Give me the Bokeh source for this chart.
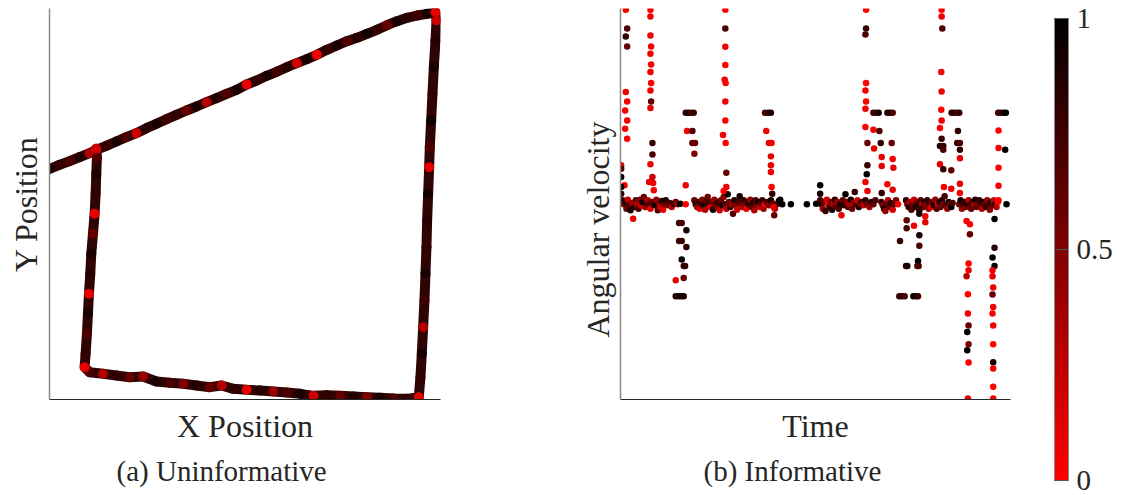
from bokeh.plotting import figure
from bokeh.models import Range1d, LinearColorMapper, ColorBar, FixedTicker, Title, ColumnDataSource
from bokeh.layouts import row
from bokeh.embed import file_html
from bokeh.resources import INLINE

# ---------------- data: (a) trajectory (x, y, weight) ----------------
traj_top_x = [30, 60, 90, 120, 150, 170, 200, 230, 260, 290, 320, 350, 380, 410, 440, 470, 500, 530, 560, 590,
              620, 650, 680, 710, 740, 770, 800, 830, 860, 890, 920, 950, 980, 1010, 1040, 1070, 1100, 1130, 1160, 1185]
traj_top_y = [692, 704, 715, 727, 739, 749, 761, 774, 787, 799, 814, 827, 841, 854, 867, 879, 892, 904, 917, 929,
              945, 957, 971, 983, 997, 1009, 1021, 1034, 1049, 1062, 1075, 1085, 1097, 1109, 1123, 1135, 1145, 1152, 1157, 1162]
traj_top_w = [0.9, 0.8, 0.7, 0.85, 0.3, 0.1, 0.8, 0.9, 0.7, 0.2, 0.85, 0.9, 0.75, 0.8, 0.6, 0.9, 0.3, 0.85, 0.7, 0.9,
              0.1, 0.8, 0.9, 0.75, 0.85, 0.2, 0.9, 0.05, 0.8, 0.9, 0.7, 0.85, 0.95, 0.8, 0.6, 0.9, 0.85, 0.75, 0.9, 0.1]
traj_right_x = [1188, 1185, 1180, 1176, 1172, 1168, 1166, 1163, 1160, 1158, 1155, 1152, 1148, 1144, 1140, 1135]
traj_right_y = [1137, 1077, 997, 917, 837, 757, 697, 617, 537, 457, 377, 297, 217, 137, 67, 7]
traj_right_w = [0.2, 0.85, 0.9, 0.8, 0.95, 0.7, 0.1, 0.9, 0.85, 0.8, 0.9, 0.75, 0.3, 0.9, 0.8, 0.1]
traj_bottom_x = [1100, 1060, 1020, 980, 940, 900, 860, 820, 780, 740, 700, 660, 620, 580, 545, 510, 470, 430, 390, 350,
                 310, 270, 230, 190, 150, 135]
traj_bottom_y = [2, 3, 5, 7, 9, 11, 13, 11, 17, 21, 24, 27, 29, 32, 42, 37, 42, 47, 50, 54, 69, 67, 72, 77, 82, 97]
traj_bottom_w = [0.8, 0.7, 0.9, 0.5, 0.85, 0.6, 0.8, 0.2, 0.9, 0.7, 0.4, 0.85, 0.1, 0.8, 0.3, 0.6, 0.85, 0.5, 0.7, 0.9,
                 0.4, 0.6, 0.8, 0.3, 0.7, 0.1]
traj_left_x = [138, 142, 145, 148, 152, 155, 160, 165, 168, 170, 172, 170]
traj_left_y = [137, 197, 257, 317, 377, 437, 497, 557, 617, 677, 727, 752]
traj_left_w = [0.8, 0.7, 0.9, 0.1, 0.85, 0.9, 0.6, 0.1, 0.8, 0.9, 0.7, 0.2]

# ---------------- data: (b) angular velocity (time, value, weight) ----------------
band_a = [(66, 12, 0.8), (70, 0, 0.5), (74, 7, 0.9), (78, -13, 0.6), (82, 14, 0.2), (86, -3, 0.7), (90, -18, 0.9),
          (94, 4, 0.4), (98, -43, 0.1), (102, -8, 0.8), (106, 12, 0.6), (110, 0, 0.3), (114, -13, 0.7), (118, 14, 0.5),
          (122, -3, 0.2), (126, 7, 0.9), (130, 22, 0.6), (134, -8, 0.4), (138, 4, 0.8), (142, 12, 0.3), (146, 0, 0.7),
          (150, -13, 0.1), (156, 7, 0.6), (162, -3, 0.9), (168, 14, 0.4), (172, -18, 0.7), (176, 2, 0.5), (180, -8, 0.2),
          (184, 10, 0.8), (188, -16, 0.1), (192, 0, 0.6), (196, 12, 0.9), (202, -3, 0.5), (208, 4, 0.7), (214, -8, 0.3),
          (220, 2, 0.8), (226, 7, 0.6), (232, 0, 0.4), (240, 2, 1.0), (256, 0, 0.0)]
band_b = [(282, 12, 0.6), (286, 0, 0.9), (290, -8, 0.4), (294, 7, 0.7), (298, -13, 0.2), (302, 2, 0.8), (306, 14, 0.5),
          (310, -3, 0.9), (314, -16, 0.3), (318, 7, 0.7), (322, 22, 0.6), (326, 0, 0.8), (330, -8, 0.1), (334, 7, 0.6),
          (338, -16, 0.9), (342, 14, 0.4), (346, 0, 0.7), (350, -8, 0.5), (354, 7, 0.8), (358, -18, 0.2), (362, 12, 0.6),
          (366, -3, 0.9), (370, 22, 0.5), (374, 0, 0.7), (378, -13, 0.3), (382, 30, 1.0), (386, 7, 0.6), (390, -8, 0.8),
          (394, 0, 0.4), (398, -28, 0.7), (402, 12, 0.9), (406, -3, 0.5), (410, -16, 0.2), (414, 7, 0.7), (418, 24, 0.9),
          (422, 0, 0.6), (426, -8, 0.3), (430, 12, 0.8), (434, -3, 0.5), (438, -13, 0.1), (442, 7, 0.7), (446, 0, 0.9),
          (450, 14, 0.4), (454, -8, 0.6), (458, 4, 0.8), (462, -18, 0.3), (466, 12, 0.7), (470, -3, 0.5), (474, 7, 0.9),
          (478, -8, 0.2), (482, 2, 0.6), (486, 12, 0.8), (490, -13, 0.4), (494, 0, 0.0), (500, 7, 0.7), (506, -3, 0.5),
          (512, 12, 0.9), (518, 2, 0.6), (524, -13, 0.3), (530, 0, 0.7), (536, 10, 0.9), (540, 14, 1.0),
          (546, 0, 1.0), (572, 0, 1.0), (620, 0, 1.0), (648, 2, 1.0)]
band_c = [(660, 12, 0.7), (664, 0, 0.9), (668, -13, 0.4), (672, 7, 0.6), (676, -20, 0.8), (680, 14, 0.2), (684, 0, 0.0),
          (688, -8, 0.7), (692, 7, 0.5), (696, -16, 0.9), (700, 0, 0.3), (704, 14, 0.8), (708, -6, 0.6), (712, 7, 0.4),
          (716, -13, 0.7), (720, 0, 0.9), (724, -33, 0.1), (728, 12, 0.6), (732, -3, 0.8), (736, 30, 1.0), (740, 7, 0.5),
          (744, -8, 0.7), (748, 0, 0.3), (752, 14, 0.9), (756, -13, 0.6), (760, 4, 0.4), (764, 37, 0.8), (768, 0, 0.7),
          (772, 12, 0.2), (776, -8, 0.9), (780, 2, 0.5), (784, 7, 0.7), (790, -3, 0.3), (796, 12, 0.8), (802, 0, 0.6),
          (808, -8, 0.4), (814, 7, 0.9), (820, 0, 0.6), (826, 12, 0.7), (844, 7, 0.8), (848, -3, 0.5), (852, -13, 0.9),
          (856, -20, 0.4), (860, 2, 0.7), (864, 12, 0.3), (868, -8, 0.6), (872, 4, 0.8), (878, -16, 0.2), (882, 0, 0.7),
          (888, 12, 0.5), (894, 0, 0.0)]
band_d = [(918, 12, 0.8), (922, 0, 0.5), (926, -8, 0.9), (930, 7, 0.3), (934, -16, 0.7), (938, 0, 0.6), (942, 14, 0.2),
          (946, -8, 0.8), (950, 7, 0.5), (954, -3, 0.9), (958, -16, 0.4), (962, 12, 0.7), (966, 0, 0.3), (970, -8, 0.6),
          (974, 7, 0.9), (978, 0, 0.5), (982, 12, 0.8), (986, -13, 0.4), (990, 2, 0.7), (994, -8, 0.1), (998, 7, 0.6),
          (1002, -3, 0.9), (1006, 14, 0.4), (1010, -13, 0.7), (1014, 0, 0.2), (1018, 7, 0.8), (1022, -8, 0.6),
          (1026, 12, 0.9), (1030, 0, 0.5), (1034, 24, 0.7), (1038, -3, 0.8), (1042, -13, 0.4), (1046, 7, 0.9),
          (1050, 0, 0.6), (1054, -8, 1.0), (1058, 4, 0.7)]
band_e = [(1078, 0, 0.6), (1082, 12, 0.9), (1086, -13, 0.4), (1090, 0, 0.7), (1094, 7, 0.8), (1098, -8, 0.5),
          (1102, 2, 0.9), (1106, 12, 0.3), (1110, -3, 0.7), (1114, -13, 0.6), (1118, 7, 0.8), (1122, 0, 0.4),
          (1126, 14, 0.9), (1130, -8, 0.6), (1134, 2, 0.5), (1138, 12, 0.8), (1142, -3, 0.7), (1146, -13, 0.3),
          (1150, 7, 0.9), (1154, 0, 0.6), (1158, -8, 0.8), (1162, 12, 0.4), (1166, 0, 0.7), (1170, -16, 0.5),
          (1174, 7, 0.9), (1178, -3, 0.6), (1182, 12, 0.2), (1186, 0, 0.8), (1190, -8, 0.3), (1194, 7, 0.0),
          (1220, 0, 1.0)]

spikes_1 = [(76, 584, 0.05), (80, 528, 0.7), (76, 504, 0.8), (80, 474, 0.6), (76, 337, 0.05), (80, 309, 0.05),
            (74, 282, 0.0), (80, 252, 0.05), (74, 227, 0.0), (80, 197, 0.05), (62, 117, 0.1), (62, 107, 0.7),
            (62, 82, 1.0), (72, 57, 0.05), (62, 52, 1.0), (62, 32, 0.8),
            (150, 584, 0.0), (150, 564, 0.05), (150, 507, 0.05), (152, 474, 0.0), (150, 452, 0.05), (152, 420, 0.0),
            (150, 397, 0.05), (152, 364, 0.0), (150, 342, 0.05), (152, 309, 0.6), (150, 289, 0.1), (156, 184, 0.8),
            (156, 150, 0.7), (150, 120, 0.05), (156, 82, 0.2), (146, 67, 0.1), (158, 64, 0.05), (160, 42, 0.0)]
spikes_2 = [(236, -56, 0.8), (244, -56, 0.7), (258, -78, 0.9), (236, -110, 0.7), (244, -110, 0.8), (258, -128, 0.8),
            (244, -166, 1.0), (250, -185, 0.7), (254, -185, 0.8), (250, -221, 0.6), (226, -228, 0.1),
            (226, -276, 0.9), (234, -276, 0.8), (242, -276, 1.0), (250, -276, 0.9),
            (256, 275, 0.8), (264, 275, 0.9), (272, 275, 0.7), (280, 275, 0.8),
            (260, 220, 0.05), (276, 220, 0.7), (276, 184, 0.6), (284, 184, 0.6), (282, 152, 0.5), (256, 57, 0.05),
            (375, 584, 0.0), (375, 528, 0.7), (375, 473, 0.05), (375, 418, 0.0), (373, 374, 0.05), (376, 364, 0.0),
            (375, 309, 0.05), (375, 252, 0.0), (368, 208, 0.05), (376, 184, 0.0), (378, 95, 0.6), (378, 52, 0.1),
            (370, 40, 0.0),
            (494, 275, 0.7), (504, 275, 0.8), (512, 275, 0.9),
            (498, 220, 0.05), (506, 184, 0.1), (514, 184, 0.05), (512, 144, 0.1), (512, 117, 0.1), (512, 97, 0.05),
            (514, 52, 0.0), (516, 32, 0.8), (520, -8, 0.1), (522, -33, 0.6)]
spikes_3 = [(798, 584, 0.0), (798, 528, 0.8), (796, 510, 0.7), (798, 364, 0.0), (796, 342, 0.05), (798, 309, 0.0),
            (796, 287, 0.05), (796, 232, 0.0), (802, 184, 0.6), (802, 117, 0.8), (800, 90, 1.0), (796, 67, 0.05),
            (802, 40, 0.1), (660, 57, 1.0), (660, 32, 0.9),
            (820, 275, 0.8), (828, 275, 0.7), (836, 275, 0.9), (862, 275, 0.8), (870, 275, 0.9), (878, 275, 0.7),
            (820, 224, 0.05), (838, 220, 0.7), (842, 184, 0.8), (875, 184, 0.6), (822, 168, 0.1), (845, 142, 0.1),
            (878, 136, 0.05), (845, 115, 0.1), (880, 110, 0.1), (862, 60, 0.0), (878, 44, 0.1), (845, 34, 0.8),
            (920, -48, 0.6), (920, -72, 0.7), (942, -64, 0.05), (958, -93, 0.9), (900, -110, 0.8), (958, -124, 0.7),
            (954, -170, 1.0), (918, -185, 0.8), (922, -185, 0.9), (952, -185, 0.6), (956, -185, 0.7),
            (976, -36, 0.05), (976, -54, 0.1), (958, -16, 0.8), (958, -28, 0.9),
            (898, -276, 0.8), (906, -276, 0.9), (914, -276, 0.7), (940, -276, 1.0), (948, -276, 0.9), (954, -276, 0.8)]
spikes_4 = [(1025, 584, 0.0), (1025, 564, 0.05), (1027, 528, 0.7), (1024, 397, 0.0), (1025, 339, 0.05),
            (1024, 284, 0.0), (1025, 252, 0.05), (1020, 229, 0.0), (1025, 197, 0.8), (1020, 175, 0.9),
            (1030, 175, 0.8), (1030, 164, 0.7), (1020, 120, 0.1), (1030, 105, 0.8), (1054, 102, 0.6),
            (1032, 52, 0.05), (1054, 47, 0.1),
            (1055, 275, 0.8), (1062, 275, 0.9), (1070, 275, 0.7), (1078, 275, 0.8),
            (1074, 220, 0.8), (1072, 184, 0.8), (1080, 184, 0.7), (1080, 164, 0.8), (1080, 138, 0.1), (1080, 62, 0.1),
            (1080, 34, 0.05),
            (1100, -50, 0.05), (1110, -60, 0.0), (1110, -90, 0.6), (1106, -178, 0.0), (1106, -198, 0.05),
            (1100, -216, 0.3), (1104, -270, 0.0), (1104, -328, 0.05), (1106, -364, 0.6), (1102, -383, 1.0),
            (1106, -420, 0.5), (1102, -438, 1.0), (1106, -475, 0.0), (1104, -583, 0.1)]
spikes_5 = [(1195, 275, 0.7), (1203, 275, 0.8), (1211, 275, 0.9), (1218, 275, 1.0),
            (1196, 222, 0.0), (1196, 169, 0.05), (1216, 164, 1.0), (1196, 110, 0.0), (1196, 56, 0.05), (1196, 12, 0.0),
            (1184, -44, 1.0), (1184, -130, 0.8), (1178, -160, 1.0), (1184, -185, 1.0), (1178, -198, 0.05),
            (1178, -216, 0.1), (1180, -250, 0.05), (1178, -271, 0.6), (1180, -308, 0.05), (1178, -328, 0.0),
            (1180, -364, 0.05), (1180, -420, 0.0), (1180, -474, 0.9), (1180, -493, 0.05), (1180, -548, 0.0),
            (1180, -583, 0.05)]

colorbar_ticks = [0, 0.5, 1]
colorbar_labels = ["0", "0.5", "1"]

# ---------------- styling ----------------
FONT = "Liberation Serif"
TXT = "#262626"
palette = ["#%02x0000" % round(255 * (1 - i / 255)) for i in range(256)]
mapper = LinearColorMapper(palette=palette, low=0, high=1)


def style(p):
    p.grid.visible = False
    p.outline_line_color = None
    p.background_fill_color = "white"
    p.border_fill_color = "white"
    for ax in (p.xaxis[0], p.yaxis[0]):
        ax.ticker = FixedTicker(ticks=[])
        ax.major_label_text_font_size = "0px"
        ax.major_tick_line_color = None
        ax.minor_tick_line_color = None
        ax.axis_label_text_font = FONT
        ax.axis_label_text_font_size = "32px"
        ax.axis_label_text_font_style = "normal"
        ax.axis_label_text_color = TXT
    p.yaxis[0].axis_line_color = "#8a8a8a"
    p.yaxis[0].axis_line_width = 1.5
    p.xaxis[0].axis_line_color = "#262626"
    p.xaxis[0].axis_line_width = 1.2
    p.yaxis[0].axis_label_standoff = 6
    p.xaxis[0].axis_label_standoff = 8


def caption(p, text, offset):
    t = Title(text=text, align="left", text_font=FONT, text_font_size="29px",
              text_font_style="normal", text_color=TXT, offset=offset, standoff=12)
    p.add_layout(t, "below")


# ---------------- (a) trajectory ----------------
tx = traj_top_x + traj_right_x + traj_bottom_x + traj_left_x
ty = traj_top_y + traj_right_y + traj_bottom_y + traj_left_y
tw = traj_top_w + traj_right_w + traj_bottom_w + traj_left_w

f1 = figure(width=560, height=495, x_range=Range1d(30, 1200), y_range=Range1d(0, 1173),
            output_backend="svg", toolbar_location=None,
            min_border_left=49, min_border_right=120, min_border_top=8, min_border_bottom=96)
style(f1)
f1.xaxis.axis_label = "X Position"
f1.yaxis.axis_label = "Y Position"
f1.line(tx, ty, line_width=10, line_color="#2e0404", line_join="round", line_cap="round")
src1 = ColumnDataSource(dict(x=tx, y=ty, w=tw))
f1.scatter("x", "y", source=src1, size=10, line_color=None,
           fill_color={"field": "w", "transform": mapper})
caption(f1, "(a) Uninformative", 67)

# ---------------- (b) angular velocity ----------------
pts = band_a + band_b + band_c + band_d + band_e + spikes_1 + spikes_2 + spikes_3 + spikes_4 + spikes_5
src2 = ColumnDataSource(dict(t=[p[0] for p in pts], v=[p[1] for p in pts], w=[p[2] for p in pts]))

f2 = figure(width=480, height=495, x_range=Range1d(60, 1232), y_range=Range1d(-586, 588),
            output_backend="svg", toolbar_location=None,
            min_border_left=60, min_border_right=30, min_border_top=8, min_border_bottom=96)
style(f2)
f2.xaxis.axis_label = "Time"
ylab = Title(text="Angular velocity", align="left", text_font=FONT, text_font_size="32px",
             text_font_style="normal", text_color=TXT, offset=62, standoff=9)
f2.add_layout(ylab, "left")
f2.scatter("t", "v", source=src2, size=6.5, line_color=None,
           fill_color={"field": "w", "transform": mapper})
caption(f2, "(b) Informative", 83)

# ---------------- colour bar ----------------
f3 = figure(width=84, height=495, x_range=Range1d(0, 1), y_range=Range1d(0, 1),
            output_backend="svg", toolbar_location=None, min_border=0)
f3.frame_align = False
f3.axis.visible = False
f3.grid.visible = False
f3.outline_line_color = None
cb = ColorBar(color_mapper=mapper, ticker=FixedTicker(ticks=colorbar_ticks),
              major_label_overrides=dict(zip(colorbar_ticks, colorbar_labels)),
              width=14, height=462, location=(14, 15), padding=0, margin=0,
              label_standoff=8, major_label_text_font=FONT, major_label_text_font_size="29px",
              major_label_text_color=TXT,
              bar_line_color="#8a8a8a", major_tick_line_color="#555555", major_tick_in=14,
              major_tick_out=0, minor_tick_line_color=None,
              border_line_color=None, background_fill_alpha=0)
f3.add_layout(cb)

layout = row(f1, f2, f3)
open("out.html", "w").write(file_html(layout, INLINE))
